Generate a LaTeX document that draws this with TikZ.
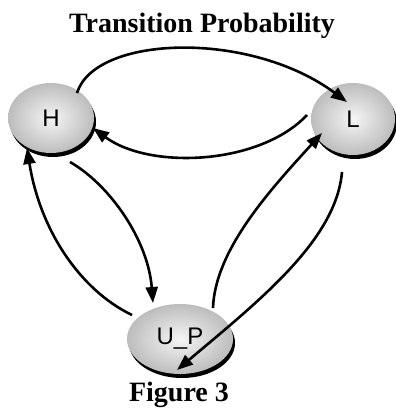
\documentclass[tikz,border=0pt]{standalone}
\usepackage{fontspec}
\setmainfont{Liberation Serif}
\setsansfont{Liberation Sans}
\usetikzlibrary{arrows.meta,shapes.geometric}
\tikzset{
  state/.style={ellipse, inner sep=0pt, font=\sffamily\fontsize{24}{24}\selectfont,
    shading=radial, inner color=gray!8, outer color=gray!52,
    preaction={fill=black, transform canvas={shift={(2pt,-4pt)}}}},
  trans/.style={line width=2.6pt, -{Triangle[length=16pt,width=12pt]}},
  caption/.style={font=\bfseries\fontsize{28}{28}\selectfont, anchor=base}
}
\begin{document}
\begin{tikzpicture}[x=1pt,y=-1pt]
\useasboundingbox (0,0) rectangle (396,410);
\node[caption] (title) at (202,32) {Transition Probability};
\node[caption] (fig) at (179,401) {Figure 3};
\node[state, minimum width=86pt, minimum height=70pt] (H) at (51,118) {H};
\node[state, minimum width=84pt, minimum height=72pt] (L) at (353,119) {L};
\node[state, minimum width=106pt, minimum height=70pt] (U) at (180,339) {U\_P};
% H -> L (top)
\draw[trans] ([shift={(26,-25)}]H.center) .. controls (95,35) and (250,30) .. ([shift={(-6,-17)}]L.center);
% L -> H
\draw[trans] ([shift={(-46,-4)}]L.center) .. controls (260,165) and (150,170) .. ([shift={(42,10)}]H.center);
% H -> U_P
\draw[trans] ([shift={(19,44)}]H.center) .. controls (110,185) and (148,240) .. ([shift={(-27,-36)}]U.center);
% U_P -> H
\draw[trans] ([shift={(-48,-24)}]U.center) .. controls (80,290) and (40,230) .. ([shift={(-24,30)}]H.center);
% U_P -> L
\draw[trans] ([shift={(33,-31)}]U.center) .. controls (215,250) and (270,190) .. ([shift={(-31,14)}]L.center);
% L -> U_P
\draw[trans] ([shift={(-11,53)}]L.center) .. controls (336,240) and (260,300) .. ([shift={(-3,31)}]U.center);
\end{tikzpicture}
\end{document}
